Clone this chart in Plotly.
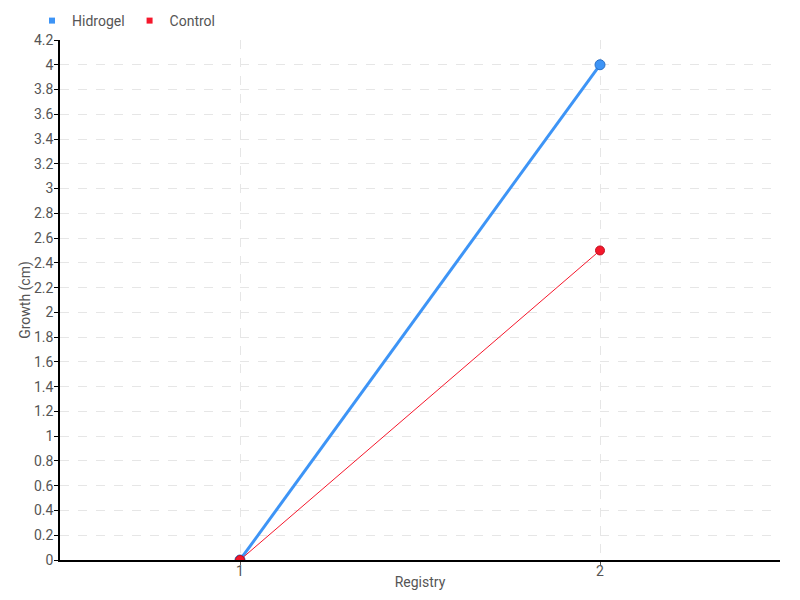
import plotly.graph_objects as go

registry = [1, 2]
hidrogel = [0, 4]
control = [0, 2.5]
y_ticks = [round(i * 0.2, 1) for i in range(22)]
y_labels = [("%g" % v) for v in y_ticks]

blue = "#3d94f6"
red = "#f5172b"
font_family = "Roboto, sans-serif"

# page body has an 8px margin: figure is shifted by (8, 8)
W, H = 792, 592

fig = go.Figure()
fig.add_trace(go.Scatter(x=registry, y=hidrogel, mode="lines+markers", showlegend=False,
                         line=dict(color=blue, width=3),
                         marker=dict(color=blue, size=10, line=dict(color="#2a6fc4", width=1))))
fig.add_trace(go.Scatter(x=registry, y=control, mode="lines+markers", showlegend=False,
                         line=dict(color=red, width=1),
                         marker=dict(color=red, size=9, line=dict(color="#c01020", width=1))))
# legend entries (square symbols)
fig.add_trace(go.Scatter(x=[None], y=[None], mode="markers", name="Hidrogel",
                         marker=dict(color=blue, symbol="square", size=6)))
fig.add_trace(go.Scatter(x=[None], y=[None], mode="markers", name="Control",
                         marker=dict(color=red, symbol="square", size=6)))

fig.update_layout(
    width=W, height=H,
    margin=dict(l=52, r=20, t=32, b=40, autoexpand=False),
    paper_bgcolor="white", plot_bgcolor="white",
    font=dict(family=font_family, size=14, color="#555555"),
    showlegend=True,
    legend=dict(orientation="h", xref="container", yref="container",
                x=24 / W, y=1 - 13 / H, xanchor="left", yanchor="middle",
                font=dict(size=14, color="#555555"), itemwidth=30, tracegroupgap=0,
                bgcolor="rgba(0,0,0,0)"),
    xaxis=dict(range=[0.5, 2.5], tickvals=registry, ticktext=[str(v) for v in registry],
               showgrid=True, gridcolor="#e6e6e6", griddash="dash", gridwidth=1,
               showline=True, linecolor="black", linewidth=1.5,
               ticks="outside", ticklen=3, tickcolor="#555555",
               ticklabelstandoff=-6,
               zeroline=False, automargin=False,
               title=dict(text="Registry", standoff=0, font=dict(size=14, color="#555555"))),
    yaxis=dict(range=[0, 4.2], tickvals=y_ticks, ticktext=y_labels,
               showgrid=True, gridcolor="#e6e6e6", griddash="dash", gridwidth=1,
               showline=True, linecolor="black", linewidth=1.5,
               ticks="outside", ticklen=4, tickcolor="black",
               ticklabelstandoff=-2,
               zeroline=False, automargin=False,
               title=dict(text="Growth (cm)", standoff=0, font=dict(size=14, color="#555555"))),
)

fig.write_html("out.html")
